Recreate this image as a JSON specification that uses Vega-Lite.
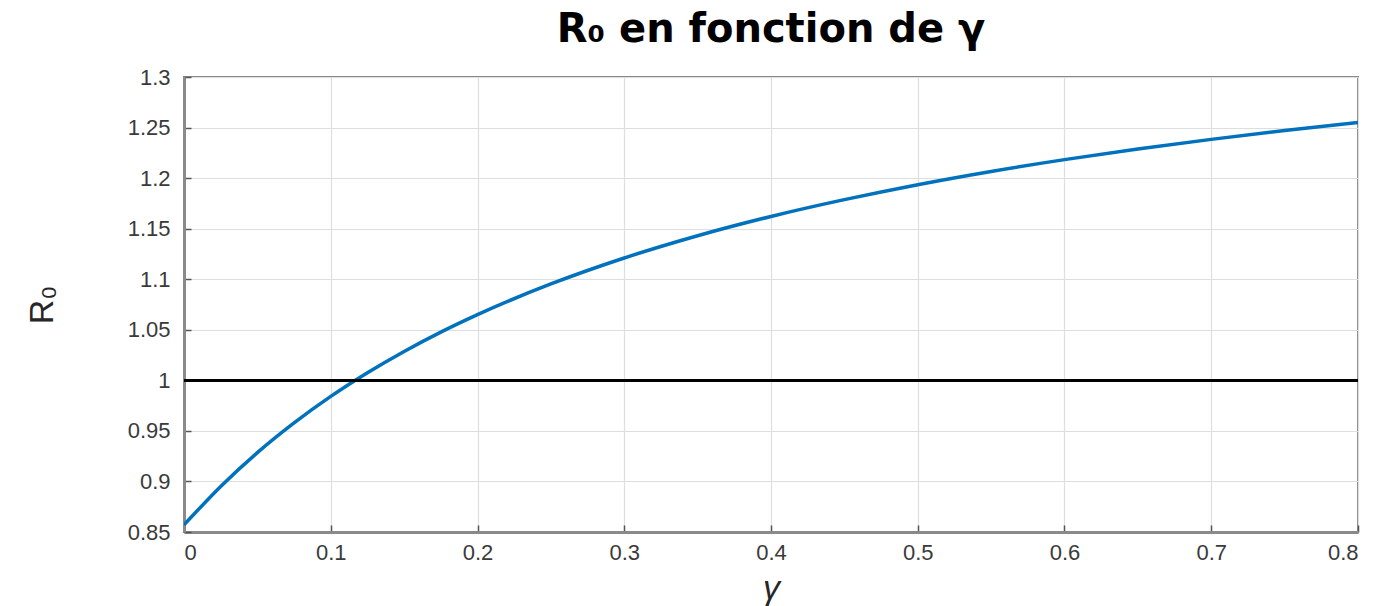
{
  "$schema": "https://vega.github.io/schema/vega-lite/v6.json",
  "width": 1174,
  "height": 455,
  "autosize": {"type": "none"},
  "padding": {"left": 184, "top": 77, "right": 34, "bottom": 74},
  "background": "white",
  "config": {
    "font": "Liberation Sans",
    "view": {"stroke": "#8a8a8a", "strokeWidth": 2},
    "axis": {
      "domainColor": "#8a8a8a",
      "domainWidth": 3,
      "gridColor": "#dedede",
      "gridWidth": 1.2,
      "tickColor": "#555",
      "tickSize": -7,
      "tickWidth": 1.5,
      "labelColor": "#3a3a3a",
      "labelFontSize": 22,
      "labelFont": "Liberation Sans",
      "titleFont": "Liberation Sans",
      "titleFontWeight": "normal",
      "titleColor": "#262626",
      "titleFontSize": 34
    }
  },
  "title": {
    "text": "R₀ en fonction de γ",
    "font": "DejaVu Sans",
    "fontSize": 40,
    "fontWeight": "bold",
    "color": "#000000",
    "anchor": "middle",
    "offset": 16
  },
  "data": {
    "values": [
      {"gamma": 0.0, "R0": 0.857},
      {"gamma": 0.025, "R0": 0.8951},
      {"gamma": 0.05, "R0": 0.9285},
      {"gamma": 0.075, "R0": 0.9579},
      {"gamma": 0.1, "R0": 0.9841},
      {"gamma": 0.125, "R0": 1.0075},
      {"gamma": 0.15, "R0": 1.0286},
      {"gamma": 0.175, "R0": 1.0477},
      {"gamma": 0.2, "R0": 1.065},
      {"gamma": 0.25, "R0": 1.0953},
      {"gamma": 0.3, "R0": 1.121},
      {"gamma": 0.35, "R0": 1.143},
      {"gamma": 0.4, "R0": 1.1621},
      {"gamma": 0.45, "R0": 1.1787},
      {"gamma": 0.5, "R0": 1.1935},
      {"gamma": 0.55, "R0": 1.2066},
      {"gamma": 0.6, "R0": 1.2183},
      {"gamma": 0.65, "R0": 1.2288},
      {"gamma": 0.7, "R0": 1.2383},
      {"gamma": 0.75, "R0": 1.247},
      {"gamma": 0.8, "R0": 1.2549}
    ]
  },
  "layer": [
    {
      "mark": {"type": "line", "color": "#0072BD", "strokeWidth": 3.5, "interpolate": "monotone", "clip": true},
      "encoding": {
        "x": {
          "field": "gamma",
          "type": "quantitative",
          "scale": {"domain": [0, 0.8], "nice": false, "zero": false},
          "axis": {
            "title": "γ",
            "titlePadding": 8,
            "titleFontStyle": "italic",
            "values": [0, 0.1, 0.2, 0.3, 0.4, 0.5, 0.6, 0.7, 0.8],
            "format": "~g",
            "labelPadding": 17,
            "grid": true
          }
        },
        "y": {
          "field": "R0",
          "type": "quantitative",
          "scale": {"domain": [0.85, 1.3], "nice": false, "zero": false},
          "axis": {
            "title": "R₀",
            "titlePadding": 68,
            "values": [0.85, 0.9, 0.95, 1, 1.05, 1.1, 1.15, 1.2, 1.25, 1.3],
            "format": "~g",
            "labelPadding": 21,
            "grid": true
          }
        }
      }
    },
    {
      "mark": {"type": "rule", "color": "#000000", "strokeWidth": 2.5},
      "encoding": {"y": {"datum": 1}}
    }
  ]
}
